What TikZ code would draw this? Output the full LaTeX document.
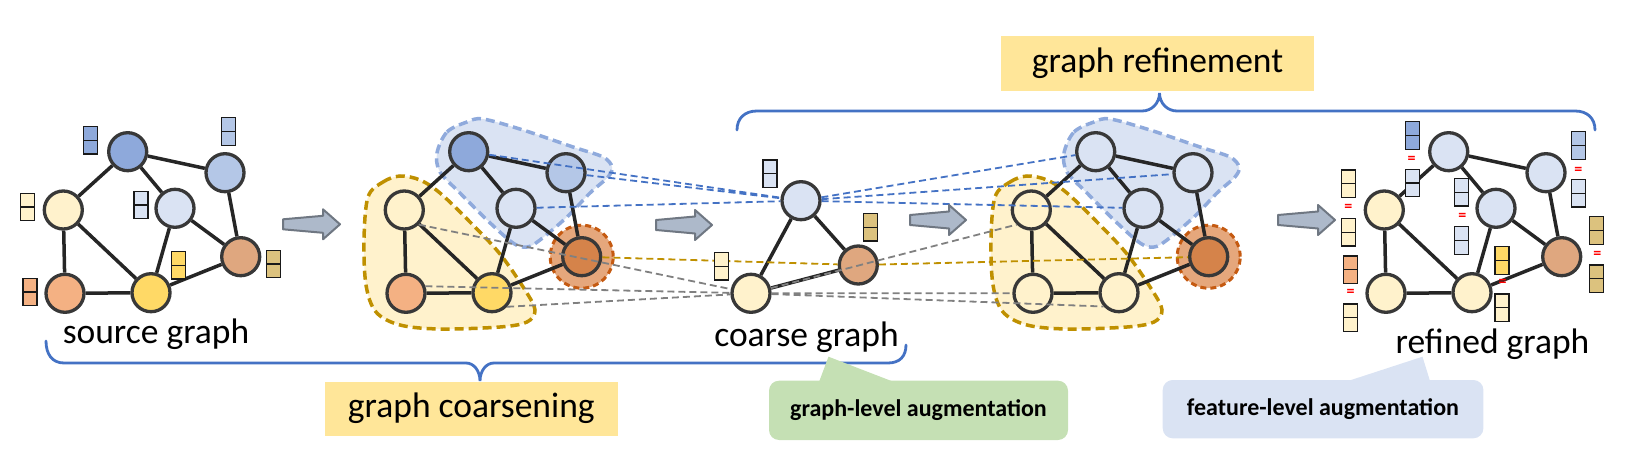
\documentclass[tikz,border=0pt]{standalone}
\usepackage{fontspec}
\setmainfont{Carlito}
\pgfdeclarelayer{hulllayer}
\pgfdeclarelayer{edgelayer}
\pgfsetlayers{hulllayer,edgelayer,main}
\definecolor{cT}{HTML}{8EA9DB}
\definecolor{cTR}{HTML}{B4C7E7}
\definecolor{cM}{HTML}{DAE3F3}
\definecolor{cL}{HTML}{FFF2CC}
\definecolor{cBL}{HTML}{F4B183}
\definecolor{cB}{HTML}{FFD966}
\definecolor{cR}{HTML}{DFA77F}
\definecolor{cRfeat}{HTML}{DCC27E}
\definecolor{cDO}{HTML}{D5834A}
\definecolor{cHalo}{HTML}{E5A77C}
\definecolor{cHaloB}{HTML}{C55A11}
\definecolor{hullB}{HTML}{8FAADC}
\definecolor{hullY}{HTML}{BF9000}
\definecolor{dashblue}{HTML}{4472C4}
\definecolor{dashgray}{HTML}{808080}
\definecolor{dashgold}{HTML}{BF9000}
\definecolor{arrowfill}{HTML}{ADB9CA}
\definecolor{arrowdraw}{HTML}{6F7782}
\definecolor{lblyellow}{HTML}{FFE699}
\definecolor{calgreen}{HTML}{C5E0B4}
\definecolor{calblue}{HTML}{DAE3F3}
\definecolor{nodeborder}{HTML}{383838}
\definecolor{edgecol}{HTML}{262626}
\definecolor{bracecol}{HTML}{4472C4}
\newcommand\lblfont{\fontsize{35.5}{40}\selectfont}
\newcommand\callfont{\fontsize{24}{27}\selectfont\bfseries}
\newcommand\drawgraph[9]{%
  \node[gnode, fill=#3] (#1T)  at ({127.7+#2},151.7) {};
  \node[gnode, fill=#4] (#1TR) at ({225+#2},172.7) {};
  \node[gnode, fill=#5] (#1L)  at ({63.3+#2},210) {};
  \node[gnode, fill=#6] (#1M)  at ({175+#2},208.3) {};
  \node[gnode, fill=#7] (#1R)  at ({240.7+#2},256.7) {};
  \node[gnode, fill=#8] (#1BL) at ({65+#2},293.3) {};
  \node[gnode, fill=#9] (#1B)  at ({151+#2},292.7) {};
  \begin{pgfonlayer}{edgelayer}
  \draw[gedge] (#1T)--(#1TR) (#1T)--(#1L) (#1T)--(#1M) (#1TR)--(#1R)
     (#1L)--(#1BL) (#1L)--(#1B) (#1M)--(#1B) (#1M)--(#1R) (#1BL)--(#1B) (#1B)--(#1R);
  \end{pgfonlayer}
}
\newcommand\feat[4]{\node[featbox, fill=#4] (#1) at (#2,#3) {};}
\newcommand\grayarrow[3]{%
  \draw[arrowstyle] (#1,{#3-5}) -- ({#2-17},{#3-8.5}) -- ({#2-17},{#3-15}) -- (#2,#3)
    -- ({#2-17},{#3+15}) -- ({#2-17},{#3+8.5}) -- (#1,{#3+5}) -- cycle;}
\newcommand\bluehullpath{plot[smooth cycle, tension=0.55] coordinates {(437,153) (447,132) (467,122) (483,119) (523,130) (573,147) (603,157) (612,167) (608,177) (590,193) (567,217) (540,240) (527,247) (513,243) (487,220) (460,193) (440,172)}}
\newcommand\yellowhullpath{plot[smooth cycle, tension=0.55] coordinates {(368,197) (383,182) (400,176) (420,180) (440,193) (470,222) (500,254) (525,290) (535,310) (527,322) (500,327) (440,329) (400,325) (376,312) (366,285) (364,240)}}
\begin{document}
\begin{tikzpicture}[x=1pt,y=-1pt,
  gnode/.style={circle, draw=nodeborder, line width=3.3pt, minimum size=38pt, inner sep=0pt},
  gedge/.style={draw=edgecol, line width=3.5pt},
  featbox/.style={rectangle, draw=black!90, line width=1.3pt, minimum width=14pt, minimum height=27.5pt, inner sep=0pt,
     path picture={\draw[line width=1.2pt, black!90] (path picture bounding box.west) -- (path picture bounding box.east);}},
  eqsign/.style={text=red, font=\fontsize{16}{16}\selectfont\bfseries, inner sep=0pt},
  bluedash/.style={draw=dashblue, line width=1.8pt, dash pattern=on 7pt off 4pt},
  graydash/.style={draw=dashgray, line width=1.8pt, dash pattern=on 7pt off 4pt},
  golddash/.style={draw=dashgold, line width=1.8pt, dash pattern=on 7pt off 4pt},
  bluehull/.style={fill=cM, draw=hullB, line width=3.5pt, dash pattern=on 9pt off 5pt},
  yellowhull/.style={fill=cL, draw=hullY, line width=3.5pt, dash pattern=on 9pt off 5pt},
  halo/.style={circle, minimum size=63pt, inner sep=0pt, fill=cHalo, draw=cHaloB, line width=3pt, dash pattern=on 6pt off 4pt},
  arrowstyle/.style={fill=arrowfill, draw=arrowdraw, line width=2pt, line join=round},
  lblbox/.style={rectangle, fill=lblyellow, inner sep=0pt, font=\lblfont},
  brace/.style={draw=bracecol, line width=2.8pt, line cap=round}
]
\useasboundingbox (0,0) rectangle (1626,457);

% hulls
\begin{pgfonlayer}{hulllayer}
\draw[yellowhull] \yellowhullpath;
\draw[bluehull] \bluehullpath;
\begin{scope}[shift={(627,0)}]
\draw[yellowhull] \yellowhullpath;
\draw[bluehull] \bluehullpath;
\end{scope}
\end{pgfonlayer}

% graphs
\drawgraph{a}{0}{cT}{cTR}{cL}{cM}{cR}{cBL}{cB}
\drawgraph{b}{341}{cT}{cTR}{cL}{cM}{cDO}{cBL}{cB}
\drawgraph{c}{968}{cM}{cM}{cL}{cM}{cDO}{cL}{cL}
\drawgraph{d}{1321}{cM}{cM}{cL}{cM}{cR}{cL}{cL}

\begin{pgfonlayer}{hulllayer}
\node[halo] (bhalo) at (bR.center) {};
\node[halo] (chalo) at (cR.center) {};
\end{pgfonlayer}

% coarse graph
\node[gnode, fill=cM] (CT) at (801,200.7) {};
\node[gnode, fill=cR] (CR) at (858.3,265) {};
\node[gnode, fill=cL] (CL) at (751,293.3) {};
\begin{pgfonlayer}{edgelayer}
\draw[gedge] (CT)--(CR) (CT)--(CL) (CL)--(CR);
\end{pgfonlayer}

% dashed correspondences
\draw[bluedash] (bT)--(CT) (bTR)--(CT) (bM)--(CT) (CT)--(cT) (CT)--(cTR) (CT)--(cM);
\draw[golddash] (bR)--(CR) (CR)--(cR);
\draw[graydash] (bL.-45)--(CL) (bBL.20)--(CL) (bB.-43)--(CL) (CL)--(cL.-135) (CL)--(cBL) (CL)--(cB.-138);

% feature boxes: source graph
\feat{fa1}{90.3}{140.3}{cT}
\feat{fa2}{228.8}{131.5}{cTR}
\feat{fa3}{27.8}{207}{cL}
\feat{fa4}{141}{205}{cM}
\feat{fa5}{178.8}{265.3}{cB}
\feat{fa6}{273.8}{264}{cRfeat}
\feat{fa7}{30}{292}{cBL}
% coarse graph
\feat{fc1}{770}{173.8}{cM}
\feat{fc2}{870.7}{227.2}{cRfeat}
\feat{fc3}{721.3}{266.3}{cL}
% refined graph
\feat{fd1}{1412.5}{135.5}{cT}
\node[eqsign] (e1) at (1411.7,160) {=};
\feat{fd1b}{1412.5}{183}{cM}
\feat{fd2}{1578.7}{145.5}{cTR}
\node[eqsign] (e2) at (1578.3,170.7) {=};
\feat{fd2b}{1578.7}{193.3}{cM}
\feat{fd3}{1348.8}{183.8}{cL}
\node[eqsign] (e3) at (1348.3,207.7) {=};
\feat{fd3b}{1348.8}{232.2}{cL}
\feat{fd4}{1461.7}{192.2}{cM}
\node[eqsign] (e4) at (1462.3,217.3) {=};
\feat{fd4b}{1461.7}{240.5}{cM}
\feat{fd5}{1350.5}{269.7}{cBL}
\node[eqsign] (e5) at (1350.7,293.3) {=};
\feat{fd5b}{1350.5}{317.8}{cL}
\feat{fd6}{1502}{260.5}{cB}
\node[eqsign] (e6) at (1502.7,282.7) {=};
\feat{fd6b}{1502}{307.8}{cL}
\feat{fd7}{1596.3}{230.5}{cRfeat}
\node[eqsign] (e7) at (1597.3,255) {=};
\feat{fd7b}{1596.3}{278.8}{cRfeat}

% gray block arrows
\grayarrow{283}{340}{224.3}
\grayarrow{656}{712}{225}
\grayarrow{910}{966}{220}
\grayarrow{1278}{1335}{220}

% graph labels
\node[font=\lblfont, anchor=base, inner sep=0pt] (lsrc) at (156,343) {source graph};
\node[font=\lblfont, anchor=base, inner sep=0pt] (lcoa) at (806.5,346.5) {coarse graph};
\node[font=\lblfont, anchor=base, inner sep=0pt] (lref) at (1492.5,353) {refined graph};

% braces
\draw[brace] (46,341) .. controls (46,354) and (52,363) .. (64,363) -- (466,363)
  .. controls (474,363) and (480,371) .. (480,381) .. controls (480,371) and (486,363) .. (494,363)
  -- (888,363) .. controls (900,363) and (906,356) .. (906,345);
\draw[brace] (737,130) .. controls (737,118) and (745,111) .. (757,111) -- (1142,111)
  .. controls (1152,111) and (1159.5,103) .. (1159.5,93) .. controls (1159.5,103) and (1167,111) .. (1177,111)
  -- (1575,111) .. controls (1587,111) and (1595,118) .. (1595,130);

% stage labels
\node[lblbox, minimum width=313pt, minimum height=55pt] (refbox) at (1157.5,63.5) {graph refinement};
\node[lblbox, minimum width=293.4pt, minimum height=54pt] (coabox) at (471.3,408.5) {graph coarsening};

% callouts
\fill[calgreen, rounded corners=10pt] (769,380.7) rectangle (1068,440);
\fill[calgreen] (819,382) -- (828.5,356.7) -- (894,382) -- cycle;
\node[font=\callfont, inner sep=0pt] (glab) at (918.5,410) {graph-level augmentation};
\fill[calblue, rounded corners=10pt] (1162.7,380) rectangle (1483.4,438.3);
\fill[calblue] (1348,381) -- (1422.5,356.7) -- (1430,381) -- cycle;
\node[font=\callfont, inner sep=0pt] (flab) at (1323,409.5) {feature-level augmentation};
\end{tikzpicture}
\end{document}
